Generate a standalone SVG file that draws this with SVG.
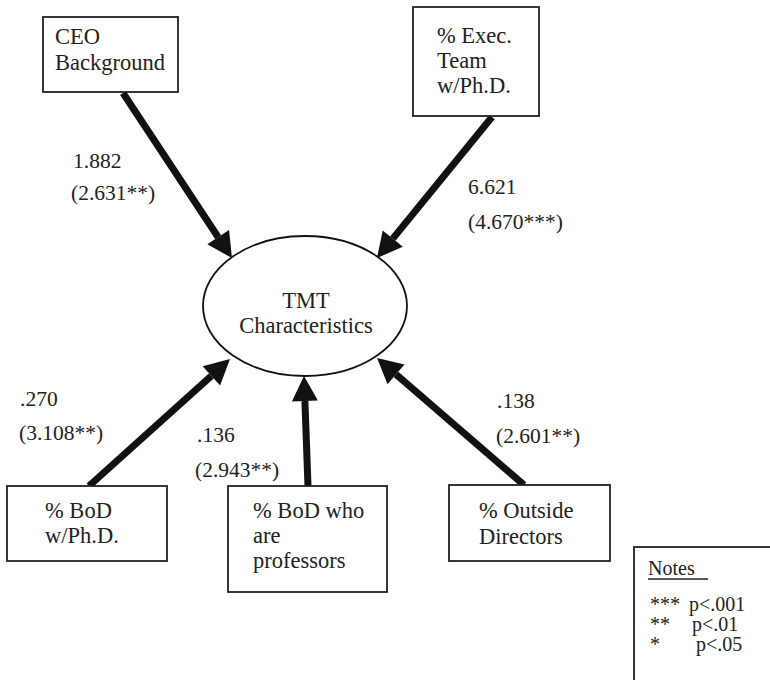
<svg xmlns="http://www.w3.org/2000/svg" width="770" height="680" viewBox="0 0 770 680">
<style>
text{font-family:'Liberation Serif','Times New Roman','DejaVu Serif',Times,serif;font-size:22.5px;fill:#222}
.box{fill:#fff;stroke:#222;stroke-width:1.8}
.arr{stroke:#111;stroke-width:7;fill:none;marker-end:url(#ah)}
.lbl{font-size:21.5px}
.note{font-size:20px}
</style>
<defs>
<marker id="ah" markerUnits="userSpaceOnUse" markerWidth="26" markerHeight="28" refX="0" refY="13" orient="auto" overflow="visible">
<path d="M0,0 L25,13 L0,26 z" fill="#111"/>
</marker>
</defs>
<rect width="770" height="680" fill="#fff"/>
<g id="connectors">
<line class="arr" x1="123" y1="93" x2="218.2" y2="237.2"/>
<line class="arr" x1="492" y1="117" x2="392.8" y2="238.6"/>
<line class="arr" x1="89" y1="486" x2="211.4" y2="375.8"/>
<line class="arr" x1="308" y1="486" x2="304.9" y2="401"/>
<line class="arr" x1="524" y1="485" x2="396" y2="374.4"/>
</g>
<g id="tmt">
<ellipse cx="305" cy="306" rx="102" ry="70" fill="#fff" stroke="#111" stroke-width="1.8"/>
<text x="306" y="308" text-anchor="middle">TMT</text>
<text x="306" y="333" text-anchor="middle">Characteristics</text>
</g>
<g id="ceo">
<rect class="box" x="43" y="17" width="135" height="75"/>
<text x="55" y="44">CEO</text>
<text x="55" y="70">Background</text>
</g>
<g id="exec">
<rect class="box" x="413" y="7" width="126" height="109"/>
<text x="437" y="43">% Exec.</text>
<text x="437" y="68">Team</text>
<text x="437" y="93">w/Ph.D.</text>
</g>
<g id="bod">
<rect class="box" x="7" y="486" width="160" height="75"/>
<text x="45" y="518">% BoD</text>
<text x="45" y="543">w/Ph.D.</text>
</g>
<g id="prof">
<rect class="box" x="228" y="486" width="159" height="106"/>
<text x="253" y="518">% BoD who</text>
<text x="253" y="543">are</text>
<text x="253" y="568">professors</text>
</g>
<g id="outside">
<rect class="box" x="449" y="485" width="161" height="76"/>
<text x="479" y="518">% Outside</text>
<text x="479" y="544">Directors</text>
</g>
<g id="labels">
<text class="lbl" x="73" y="168">1.882</text>
<text class="lbl" x="71" y="200">(2.631**)</text>
<text class="lbl" x="468" y="194">6.621</text>
<text class="lbl" x="468" y="229">(4.670***)</text>
<text class="lbl" x="20" y="406">.270</text>
<text class="lbl" x="19" y="440">(3.108**)</text>
<text class="lbl" x="197" y="442">.136</text>
<text class="lbl" x="195" y="477">(2.943**)</text>
<text class="lbl" x="497" y="408">.138</text>
<text class="lbl" x="496" y="443">(2.601**)</text>
</g>
<g id="notes">
<rect x="634" y="547" width="200" height="200" fill="#fff" stroke="#222" stroke-width="1.8"/>
<text class="note" x="648" y="575" font-size="21">Notes</text>
<line x1="648" y1="579" x2="708" y2="579" stroke="#222" stroke-width="1.5"/>
<text class="note" x="650" y="611">***</text>
<text class="note" x="689" y="611">p&lt;.001</text>
<text class="note" x="650" y="631">**</text>
<text class="note" x="692" y="631">p&lt;.01</text>
<text class="note" x="650" y="651">*</text>
<text class="note" x="696" y="651">p&lt;.05</text>
</g>
</svg>
